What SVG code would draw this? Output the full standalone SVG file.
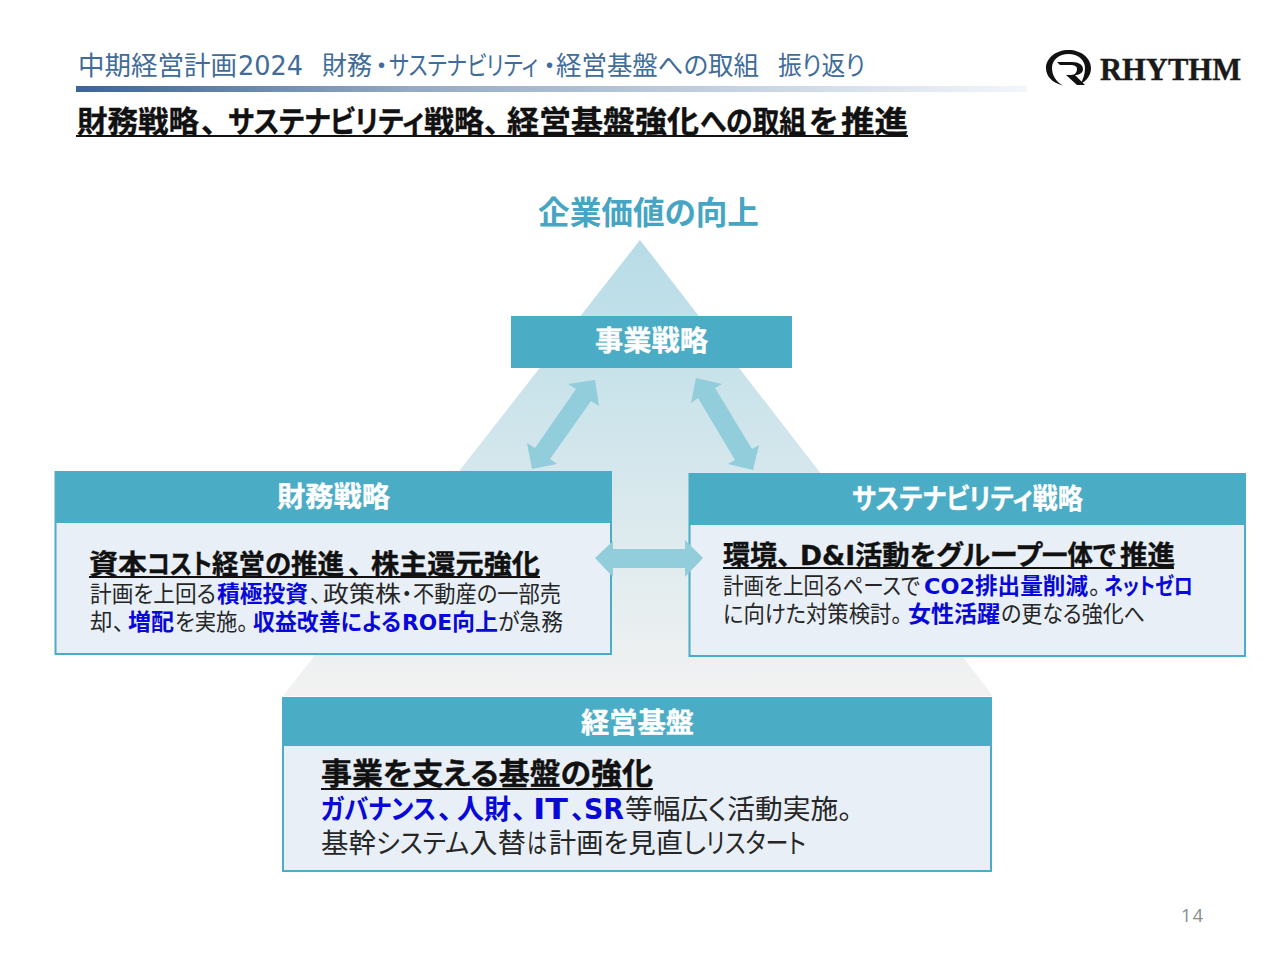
<svg xmlns="http://www.w3.org/2000/svg" width="1280" height="960" viewBox="0 0 1280 960">
<style>
text{font-family:"Noto Sans CJK JP","Noto Sans",sans-serif;white-space:pre;font-feature-settings:"palt"}
.t{fill:#3f6c99;font-size:26px}
.hd{fill:#fff;font-weight:700;font-size:28px;stroke:#fff;stroke-width:.3}
.k{fill:#111;font-weight:700;stroke:#111;stroke-width:.35}
.u{fill:#111}
.b{fill:#262626}
.e{fill:#0808d8;font-weight:700}
.l{font-family:"DejaVu Sans",sans-serif}
.box{fill:#e8eff6;stroke:#4bacc6;stroke-width:2}
.bar{fill:#4bacc6}
.ar{fill:#92cddc}
</style>
<defs>
<linearGradient id="g" x1="0" y1="0" x2="1" y2="0"><stop offset="0" stop-color="#3a6596"/><stop offset="0.35" stop-color="#93a9c4"/><stop offset="1" stop-color="#f3f6fb"/></linearGradient>
<linearGradient id="p" x1="0" y1="0" x2="0" y2="1"><stop offset="0" stop-color="#b7dce7"/><stop offset="1" stop-color="#f2f2f2"/></linearGradient>
</defs>
<rect width="1280" height="960" fill="#fff"/>
<g id="header">
<text class="t" y="75"><tspan lengthAdjust="spacingAndGlyphs" x="78" textLength="159">中期経営計画</tspan><tspan class="l" lengthAdjust="spacingAndGlyphs" x="238" textLength="65">2024</tspan><tspan lengthAdjust="spacingAndGlyphs" x="322" textLength="50">財務</tspan><tspan x="375">・</tspan><tspan lengthAdjust="spacingAndGlyphs" x="389" textLength="149">サステナビリティ</tspan><tspan x="543">・</tspan><tspan lengthAdjust="spacingAndGlyphs" x="556" textLength="203">経営基盤への取組</tspan><tspan lengthAdjust="spacingAndGlyphs" x="778" textLength="87">振り返り</tspan></text>
<rect x="76" y="86" width="951" height="6" fill="url(#g)"/>
<text class="k" y="132" font-size="30"><tspan lengthAdjust="spacingAndGlyphs" x="77" textLength="122">財務戦略</tspan><tspan x="201">、</tspan><tspan lengthAdjust="spacingAndGlyphs" x="228" textLength="196">サステナビリティ</tspan><tspan lengthAdjust="spacingAndGlyphs" x="424" textLength="60">戦略</tspan><tspan x="484">、</tspan><tspan lengthAdjust="spacingAndGlyphs" x="507" textLength="192">経営基盤強化</tspan><tspan lengthAdjust="spacingAndGlyphs" x="700" textLength="106">への取組</tspan><tspan lengthAdjust="spacingAndGlyphs" x="809" textLength="29">を</tspan><tspan lengthAdjust="spacingAndGlyphs" x="841" textLength="67">推進</tspan></text>
<rect class="u" x="76" y="135" width="832" height="2"/>
</g>
<g id="logo">
<path d="M1063 85.500C1052 83 1046 76 1046 68C1046 58 1056 50 1068.500 50C1081 50 1091 58 1091 68C1091 75 1087 81 1080 84C1083 80 1085 74 1085 68C1085 60 1078 54 1068.500 54C1059 54 1052 60 1052 68C1052 75 1056 82 1063 85.500Z" fill="#111"/>
<path d="M1057 62H1072C1079 62 1083 65 1083 69C1083 73 1079 75 1075 75L1085 85L1077 85L1066 75H1071C1075 75 1077 72 1077 69C1077 66 1074 65 1071 65H1060Z" fill="#111"/>
<text x="1100" y="80" font-size="32" font-weight="700" fill="#1a1a1a" stroke="#1a1a1a" stroke-width=".4" textLength="141" lengthAdjust="spacingAndGlyphs" style="font-family:'Liberation Serif',serif;font-feature-settings:normal">RHYTHM</text>
</g>
<g id="pyramid">
<path d="M640 240L993 696H283Z" fill="url(#p)"/>
<text x="538" y="224" font-size="31.500" font-weight="700" fill="#45a5c2" textLength="221" lengthAdjust="spacingAndGlyphs">企業価値の向上</text>
</g>
<g id="connectors">
<path class="ar" d="M595 380L568 384L576 389L535 448L527 443L532 469L557 464L550 459L591 401L599 406Z"/>
<path class="ar" d="M696 378L722 384L715 388L752 449L759 445L753 470L728 464L735 460L698 398L691 403Z"/>
</g>
<g id="node-business">
<rect x="511" y="316" width="281" height="52" class="bar"/>
<text class="hd" x="595" y="351" textLength="113" lengthAdjust="spacingAndGlyphs">事業戦略</text>
</g>
<g id="node-finance">
<rect x="55.500" y="472" width="555.500" height="182" class="box"/>
<rect x="55" y="471" width="557" height="52" class="bar"/>
<text class="hd" x="277" y="507" textLength="113" lengthAdjust="spacingAndGlyphs">財務戦略</text>
<text class="k" y="574" font-size="27.500"><tspan lengthAdjust="spacingAndGlyphs" x="89" textLength="58">資本</tspan><tspan lengthAdjust="spacingAndGlyphs" x="147" textLength="65">コスト</tspan><tspan lengthAdjust="spacingAndGlyphs" x="212" textLength="132">経営の推進</tspan><tspan x="348">、</tspan><tspan lengthAdjust="spacingAndGlyphs" x="371" textLength="169">株主還元強化</tspan></text>
<rect class="u" x="89" y="576" width="451" height="2"/>
<text class="b" y="602" font-size="22.500"><tspan lengthAdjust="spacingAndGlyphs" x="90" textLength="126">計画を上回る</tspan><tspan class="e" lengthAdjust="spacingAndGlyphs" x="217" textLength="91">積極投資</tspan><tspan x="310">、</tspan><tspan lengthAdjust="spacingAndGlyphs" x="323" textLength="78">政策株</tspan><tspan x="401">・</tspan><tspan lengthAdjust="spacingAndGlyphs" x="413" textLength="148">不動産の一部売</tspan></text>
<text class="b" y="630" font-size="22.500"><tspan x="90">却</tspan><tspan x="113">、</tspan><tspan class="e" lengthAdjust="spacingAndGlyphs" x="128" textLength="46">増配</tspan><tspan lengthAdjust="spacingAndGlyphs" x="175" textLength="73">を実施。</tspan><tspan class="e" lengthAdjust="spacingAndGlyphs" x="253" textLength="148">収益改善による</tspan><tspan class="e l" font-size="22" lengthAdjust="spacingAndGlyphs" x="402" textLength="50">ROE</tspan><tspan class="e" lengthAdjust="spacingAndGlyphs" x="452" textLength="46">向上</tspan><tspan lengthAdjust="spacingAndGlyphs" x="498" textLength="65">が急務</tspan></text>
</g>
<g id="node-sustainability">
<rect x="689.500" y="474" width="555.500" height="182" class="box"/>
<rect x="689" y="473" width="557" height="52" class="bar"/>
<text class="hd" x="852" y="509" textLength="231" lengthAdjust="spacingAndGlyphs">サステナビリティ戦略</text>
<text class="k" y="565" font-size="27.500"><tspan lengthAdjust="spacingAndGlyphs" x="723" textLength="54">環境</tspan><tspan x="777">、</tspan><tspan class="l" font-size="26" lengthAdjust="spacingAndGlyphs" x="800" textLength="55">D&amp;I</tspan><tspan lengthAdjust="spacingAndGlyphs" x="855" textLength="81">活動を</tspan><tspan lengthAdjust="spacingAndGlyphs" x="936" textLength="106">グループ</tspan><tspan lengthAdjust="spacingAndGlyphs" x="1042" textLength="74">一体で</tspan><tspan lengthAdjust="spacingAndGlyphs" x="1120" textLength="55">推進</tspan></text>
<rect class="u" x="723" y="567" width="451" height="2"/>
<text class="b" y="594" font-size="22.500"><tspan lengthAdjust="spacingAndGlyphs" x="723" textLength="197">計画を上回るペースで</tspan><tspan class="e l" font-size="22" lengthAdjust="spacingAndGlyphs" x="924" textLength="51">CO2</tspan><tspan class="e" lengthAdjust="spacingAndGlyphs" x="975" textLength="113">排出量削減</tspan><tspan x="1089">。</tspan><tspan class="e" lengthAdjust="spacingAndGlyphs" x="1104" textLength="89">ネットゼロ</tspan></text>
<text class="b" y="622" font-size="22.500"><tspan lengthAdjust="spacingAndGlyphs" x="723" textLength="179">に向けた対策検討。</tspan><tspan class="e" lengthAdjust="spacingAndGlyphs" x="908" textLength="92">女性活躍</tspan><tspan lengthAdjust="spacingAndGlyphs" x="1001" textLength="144">の更なる強化へ</tspan></text>
</g>
<g id="connector-horizontal">
<path class="ar" d="M595 558L613 541V549H685V540L703 558L685 577V568H613V577Z"/>
</g>
<g id="node-base">
<rect x="283" y="698" width="708" height="173" class="box"/>
<rect x="282" y="697" width="710" height="49" class="bar"/>
<text class="hd" x="581" y="733" textLength="113" lengthAdjust="spacingAndGlyphs">経営基盤</text>
<text class="k" x="321" y="784" font-size="30" textLength="332" lengthAdjust="spacingAndGlyphs">事業を支える基盤の強化</text>
<rect class="u" x="321" y="788" width="332" height="2"/>
<text class="b" y="819" font-size="27.500"><tspan class="e" lengthAdjust="spacingAndGlyphs" x="321" textLength="115">ガバナンス</tspan><tspan class="e" x="438">、</tspan><tspan class="e" lengthAdjust="spacingAndGlyphs" x="457" textLength="54">人財</tspan><tspan class="e" x="512">、</tspan><tspan class="e l" font-size="28" lengthAdjust="spacingAndGlyphs" x="533" textLength="35">IT</tspan><tspan class="e" x="571">、</tspan><tspan class="e l" font-size="28" lengthAdjust="spacingAndGlyphs" x="584" textLength="40">SR</tspan><tspan lengthAdjust="spacingAndGlyphs" x="625" textLength="227">等幅広く活動実施。</tspan></text>
<text class="b" y="853" font-size="27.500"><tspan lengthAdjust="spacingAndGlyphs" x="321" textLength="55">基幹</tspan><tspan lengthAdjust="spacingAndGlyphs" x="376" textLength="93">システム</tspan><tspan lengthAdjust="spacingAndGlyphs" x="469" textLength="57">入替</tspan><tspan lengthAdjust="spacingAndGlyphs" x="527" textLength="20">は</tspan><tspan lengthAdjust="spacingAndGlyphs" x="549" textLength="157">計画を見直し</tspan><tspan lengthAdjust="spacingAndGlyphs" x="706" textLength="100">リスタート</tspan></text>
</g>
<text id="page" x="1181" y="922" font-size="18" fill="#8a8a8a" textLength="22" style="font-family:'Open Sans',sans-serif;font-feature-settings:normal">14</text>
</svg>
